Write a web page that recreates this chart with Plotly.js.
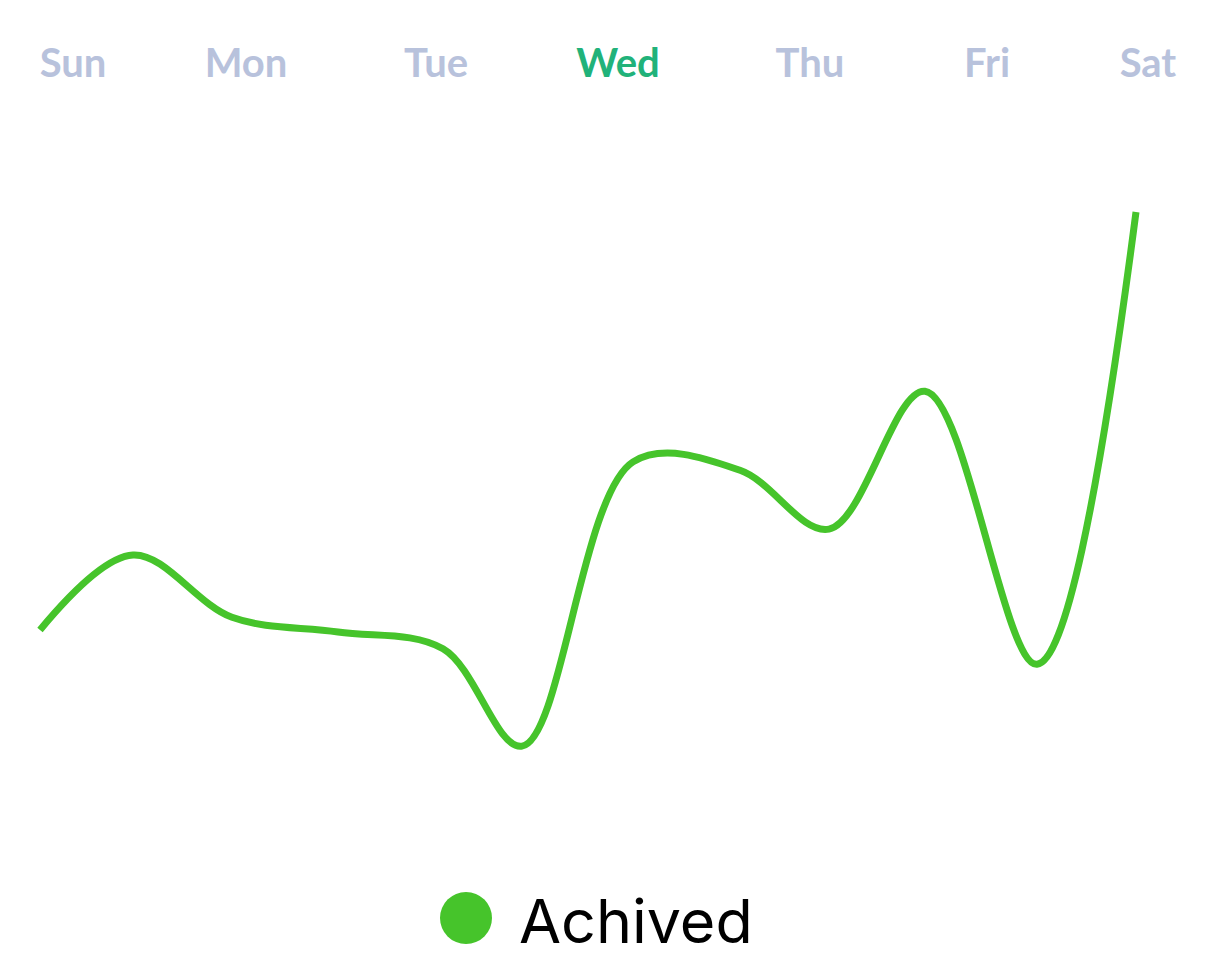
<!DOCTYPE html>
<html>
<head>
<meta charset="utf-8">
<script src="https://cdn.plot.ly/plotly-3.0.1.min.js"></script>
<style>
  html, body { margin: 0; padding: 0; background: #ffffff; }
  #chart { width: 1212px; height: 976px; }
</style>
</head>
<body>
<div id="chart"></div>
<script>
// ---- data ----
const pointPositions = [0, 0.933, 1.927, 2.991, 4.045, 4.838, 5.952, 7.026, 7.919, 8.882, 10.006, 11.0];
const achieved = [24.3, 35.0, 26.1, 24.0, 21.6, 7.7, 48.3, 47.1, 38.7, 58.4, 19.4, 84.0];
const dayLabels = ['Sun', 'Mon', 'Tue', 'Wed', 'Thu', 'Fri', 'Sat'];
const dayTickPositions = [0.331, 2.068, 3.975, 5.801, 7.728, 9.505, 11.12];
const highlightedDay = 'Wed';
const seriesName = 'Achived';

// ---- styles ----
const lineColor = '#46c42b';
const labelColor = '#b8c2dc';
const highlightColor = '#21b27a';

const W = 1212, H = 976;
const plotTop = 100, plotBottom = 800;
const firstPx = 40, lastPx = 1136;
const xSpan = pointPositions[pointPositions.length - 1] - pointPositions[0];
const pxPerUnit = (lastPx - firstPx) / xSpan;
const xRange = [pointPositions[0] - firstPx / pxPerUnit, pointPositions[0] + (W - firstPx) / pxPerUnit];

const tickText = dayLabels.map(d => d === highlightedDay
  ? `<span style="color:${highlightColor}">${d}</span>` : d);

function paperY(py) { return (plotBottom - py) / (plotBottom - plotTop); }

const trace = {
  x: pointPositions,
  y: achieved,
  type: 'scatter',
  mode: 'lines',
  name: seriesName,
  line: { color: lineColor, width: 7, shape: 'spline', smoothing: 1 },
  hoverinfo: 'skip',
  showlegend: false
};

const layout = {
  width: W,
  height: H,
  margin: { l: 0, r: 0, t: plotTop, b: H - plotBottom, pad: 0 },
  paper_bgcolor: '#ffffff',
  plot_bgcolor: '#ffffff',
  showlegend: false,
  xaxis: {
    range: xRange,
    side: 'top',
    tickmode: 'array',
    tickvals: dayTickPositions,
    ticktext: tickText,
    showgrid: false,
    zeroline: false,
    showline: false,
    ticks: '',
    ticklabelstandoff: 14,
    tickfont: { family: 'Lato, sans-serif', size: 40, color: labelColor, weight: 700 },
    fixedrange: true
  },
  yaxis: {
    range: [0, 100],
    visible: false,
    fixedrange: true
  },
  shapes: [{
    type: 'circle',
    xref: 'paper', yref: 'paper',
    xsizemode: 'pixel', ysizemode: 'pixel',
    xanchor: 466 / W, yanchor: paperY(918),
    x0: -26, x1: 26, y0: -26, y1: 26,
    fillcolor: lineColor,
    line: { width: 0 }
  }],
  annotations: [{
    xref: 'paper', yref: 'paper',
    x: 517 / W, y: paperY(921),
    xanchor: 'left', yanchor: 'middle',
    text: seriesName,
    showarrow: false,
    font: { family: 'Inter, sans-serif', size: 61, color: '#000000' }
  }]
};

Plotly.newPlot('chart', [trace], layout, { displayModeBar: false, staticPlot: true });
</script>
</body>
</html>
